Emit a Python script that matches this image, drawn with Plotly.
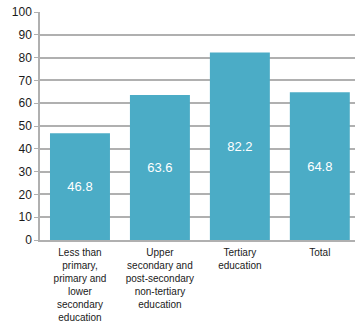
import plotly.graph_objects as go

categories = ["Less than<br>primary,<br>primary and<br>lower<br>secondary<br>education",
              "Upper<br>secondary and<br>post-secondary<br>non-tertiary<br>education",
              "Tertiary<br>education",
              "Total"]
values = [46.8, 63.6, 82.2, 64.8]
yticks = [0, 10, 20, 30, 40, 50, 60, 70, 80, 90, 100]

fig = go.Figure(go.Bar(
    x=list(range(len(categories))), y=values,
    marker=dict(color="#4BACC6", line=dict(width=0)),
    width=0.75,
    text=[f"{v:.1f}" for v in values],
    textposition="inside", insidetextanchor="middle",
    textfont=dict(color="white", size=13, family="Liberation Sans, Arial"),
))

fig.update_layout(
    width=355, height=324,
    margin=dict(l=40, r=0, t=12, b=84),
    paper_bgcolor="white", plot_bgcolor="white",
    font=dict(family="Liberation Sans, Arial", color="#1a1a1a"),
    showlegend=False,
    xaxis=dict(tickmode="array", tickvals=list(range(len(categories))), ticktext=categories,
               range=[-0.5, 3.44], showgrid=False, showline=True, linecolor="#B0B0B0", linewidth=1.5,
               ticks="", tickfont=dict(size=10), tickangle=0, ticklabelstandoff=2, automargin=False),
    yaxis=dict(range=[0, 100], tickvals=yticks, showgrid=True, gridcolor="#B0B0B0", gridwidth=1.5,
               showline=True, linecolor="#B0B0B0", linewidth=1.5, ticks="outside", ticklen=4,
               tickcolor="#B0B0B0", tickfont=dict(size=12), zeroline=False, automargin=False),
)
fig.write_html("out.html")
